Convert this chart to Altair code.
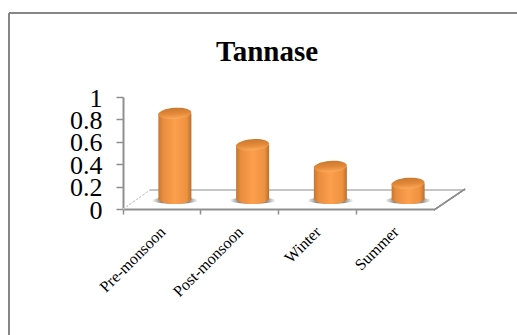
import altair as alt
import pandas as pd

seasons = ["Pre-monsoon", "Post-monsoon", "Winter", "Summer"]
tannase = [0.76, 0.48, 0.285, 0.135]
y_ticks = [0, 0.2, 0.4, 0.6, 0.8, 1]
chart_title = ["Tannase"]

PLOT_W, PLOT_H = 311, 112
DEPTH_X, DEPTH_Y = 13, 10.5
BAR_W = 33
GRID = "#8f8f8f"
SERIF = "Liberation Serif"

df = pd.DataFrame({"season": seasons, "tannase": tannase, "floor": [0.0] * len(seasons)})

x_scale = alt.Scale(domain=seasons, paddingInner=0, paddingOuter=0)
y_scale = alt.Scale(domain=[0, 1])
y_axis = alt.Axis(
    values=y_ticks, labelFont=SERIF, labelFontSize=26, labelColor="#000000",
    labelPadding=14, labelOffset=1, labelOverlap=False, labelBound=False, labelFlush=False,
    labelExpr="datum.value",
    tickColor=GRID, tickWidth=1.5, tickSize=7, domainColor=GRID, domainWidth=2, grid=False,
)
x_enc = alt.X(
    "season:N",
    sort=seasons,
    scale=x_scale,
    title=None,
    axis=alt.Axis(
        labelAngle=-45, labelFont=SERIF, labelFontSize=16, labelColor="#000000",
        labelAlign="right", labelBaseline="middle", labelPadding=15, labelOffset=1,
        labelOverlap=False, labelBound=False, labelFlush=False, labelLimit=0,
        tickColor=GRID, tickWidth=1.5, tickSize=5, domainColor=GRID, domainWidth=2,
        bandPosition=0, grid=False,
    ),
)
y_enc = alt.Y("tannase:Q", scale=y_scale, title=None, axis=y_axis)
bar_y = alt.Y("floor:Q", scale=y_scale, title=None, axis=y_axis)

ellipse = "M-1,0A1,0.34,0,1,1,1,0A1,0.34,0,1,1,-1,0Z"
flat_ellipse = "M-1,0A1,0.14,0,1,1,1,0A1,0.14,0,1,1,-1,0Z"

side_fill = alt.Gradient(
    gradient="linear", x1=0, x2=1, y1=0, y2=0,
    stops=[
        alt.GradientStop(offset=0, color="#c57630"),
        alt.GradientStop(offset=0.14, color="#e88d3e"),
        alt.GradientStop(offset=0.5, color="#fd9f4c"),
        alt.GradientStop(offset=0.86, color="#ee9240"),
        alt.GradientStop(offset=1, color="#b8702e"),
    ],
)
cap_fill = alt.Gradient(
    gradient="linear", x1=0, x2=0, y1=0, y2=1,
    stops=[
        alt.GradientStop(offset=0, color="#c9782f"),
        alt.GradientStop(offset=0.55, color="#e48a3a"),
        alt.GradientStop(offset=1, color="#fbaa5c"),
    ],
)
shadow_fill = alt.Gradient(
    gradient="linear", x1=0, x2=1, y1=0, y2=0,
    stops=[
        alt.GradientStop(offset=0, color="#ffffff"),
        alt.GradientStop(offset=0.2, color="#8a8a8a"),
        alt.GradientStop(offset=0.8, color="#8a8a8a"),
        alt.GradientStop(offset=1, color="#ffffff"),
    ],
)

# Floor of the 3D box: back edge, right edge and a faint dotted left edge
back_edge = alt.Chart(df).mark_rule(color="#c4c4c4", strokeWidth=1.5).encode(
    x=alt.value(27), x2=alt.value(342), y=alt.value(93), y2=alt.value(93)
)
right_edge = alt.Chart(df).mark_rule(color=GRID, strokeWidth=1.5).encode(
    x=alt.value(311), x2=alt.value(342), y=alt.value(113), y2=alt.value(92)
)
left_edge = alt.Chart(df).mark_rule(color="#cfcfcf", strokeWidth=1, strokeDash=[2, 2]).encode(
    x=alt.value(0), x2=alt.value(27), y=alt.value(112), y2=alt.value(93)
)

shadow = alt.Chart(df).mark_point(
    shape=flat_ellipse, filled=True, fill=shadow_fill, opacity=1, size=2116,
    xOffset=DEPTH_X, yOffset=-DEPTH_Y + 2,
).encode(x=x_enc, y=bar_y)
base = alt.Chart(df).mark_point(
    shape=ellipse, filled=True, fill=side_fill, opacity=1, size=BAR_W ** 2,
    xOffset=DEPTH_X, yOffset=-DEPTH_Y,
).encode(x=x_enc, y=bar_y)
body = alt.Chart(df).mark_bar(
    size=BAR_W, fill=side_fill,
    xOffset=DEPTH_X, x2Offset=DEPTH_X, yOffset=-DEPTH_Y, y2Offset=-DEPTH_Y,
).encode(x=x_enc, y=y_enc)
cap = alt.Chart(df).mark_point(
    shape=ellipse, filled=True, fill=cap_fill, opacity=1, size=BAR_W ** 2, angle=356,
    xOffset=DEPTH_X, yOffset=-DEPTH_Y,
).encode(x=x_enc, y=y_enc)

title_mark = alt.Chart(pd.DataFrame({"label": chart_title})).mark_text(
    font=SERIF, fontSize=29, fontWeight="bold", color="#000000", align="center", baseline="alphabetic",
).encode(text="label:N", x=alt.value(144), y=alt.value(-36))

# Page frame: only the top and left rules are in view
frame_top = alt.Chart(df).mark_rule(color="#868686", strokeWidth=2).encode(
    x=alt.value(-114), x2=alt.value(394), y=alt.value(-84), y2=alt.value(-84)
)
frame_left = alt.Chart(df).mark_rule(color="#868686", strokeWidth=2).encode(
    x=alt.value(-114), y=alt.value(-84), y2=alt.value(238)
)

chart = (
    alt.layer(back_edge, left_edge, right_edge, shadow, base, body, cap, title_mark, frame_top, frame_left)
    .resolve_scale(x="shared", y="shared")
    .properties(
        width=PLOT_W,
        height=PLOT_H,
        autosize=alt.AutoSizeParams(type="none"),
        padding={"left": 123, "top": 97, "right": 83, "bottom": 126},
        background="#ffffff",
    )
    .configure_view(stroke=None)
)

chart.save("out.html", embed_options={"renderer": "svg", "actions": False})
